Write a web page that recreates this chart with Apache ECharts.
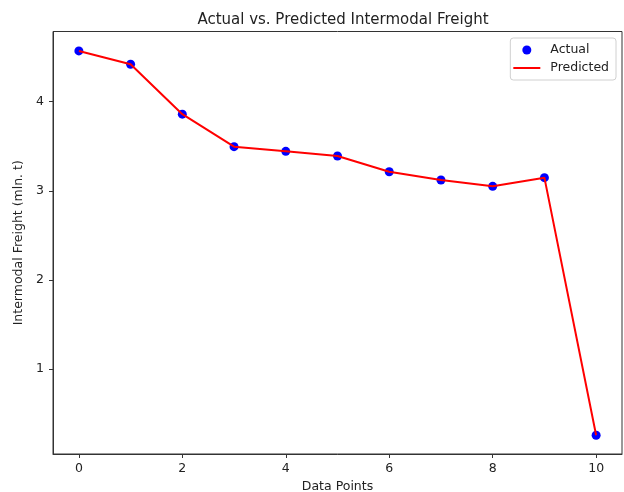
<!DOCTYPE html>
<html>
<head>
<meta charset="utf-8">
<script src="https://cdn.jsdelivr.net/npm/echarts@6/dist/echarts.min.js"></script>
<style>html,body{margin:0;padding:0;background:#fff}#c{width:624px;height:492px}</style>
</head>
<body>
<div id="c"></div>
<script>
var dataPoints = [0, 1, 2, 3, 4, 5, 6, 7, 8, 9, 10];
var actual = [4.57, 4.42, 3.86, 3.495, 3.443, 3.39, 3.214, 3.121, 3.05, 3.147, 0.256];
var predicted = [4.57, 4.42, 3.86, 3.495, 3.443, 3.39, 3.214, 3.121, 3.05, 3.147, 0.256];
var xTicks = [0, 2, 4, 6, 8, 10];
var yTicks = [1, 2, 3, 4];

var font = 'DejaVu Sans';
var chart = echarts.init(document.getElementById('c'));
chart.setOption({
  animation: false,
  backgroundColor: '#fff',
  title: {
    text: 'Actual vs. Predicted Intermodal Freight',
    left: 338, top: 8, textAlign: 'center',
    textStyle: {fontFamily: font, fontSize: 15, fontWeight: 'normal', color: '#222'}
  },
  legend: {
    orient: 'vertical', right: 8, top: 38,
    padding: [5, 7, 5, 3],
    itemWidth: 27, itemHeight: 9, itemGap: 4,
    borderColor: '#d0d0d0', borderWidth: 1, borderRadius: 3,
    backgroundColor: '#fff',
    textStyle: {fontFamily: font, fontSize: 12.5, color: '#222', lineHeight: 14, padding: [0, 0, 0, 5]},
    data: [
      {name: 'Actual', icon: 'circle'},
      {name: 'Predicted', icon: 'path://M0,0 L27,0 L27,2 L0,2 Z'}
    ]
  },
  grid: {
    left: 53, right: 2, top: 31.5, bottom: 38,
    outerBoundsMode: 'none', containLabel: false,
    show: true, borderColor: '#333', borderWidth: 1
  },
  xAxis: {
    type: 'value', min: -0.5, max: 10.5,
    name: 'Data Points', nameLocation: 'middle', nameGap: 26,
    nameTextStyle: {fontFamily: font, fontSize: 12.5, color: '#222'},
    axisLine: {show: true, onZero: false, lineStyle: {color: '#333', width: 1}},
    axisTick: {show: true, length: 4, lineStyle: {color: '#333'}, customValues: xTicks},
    axisLabel: {fontFamily: font, fontSize: 12.5, color: '#222', margin: 8, customValues: xTicks},
    splitLine: {show: false}
  },
  yAxis: {
    type: 'value', min: 0.045, max: 4.788,
    name: 'Intermodal Freight (mln. t)', nameLocation: 'middle', nameGap: 24,
    nameTextStyle: {fontFamily: font, fontSize: 12.5, color: '#222'},
    axisLine: {show: true, onZero: false, lineStyle: {color: '#333', width: 1}},
    axisTick: {show: true, length: 4, lineStyle: {color: '#333'}, customValues: yTicks},
    axisLabel: {fontFamily: font, fontSize: 12.5, color: '#222', margin: 9, customValues: yTicks},
    splitLine: {show: false}
  },
  series: [
    {
      name: 'Actual', type: 'scatter', symbol: 'circle', symbolSize: 9,
      itemStyle: {color: '#0000ff', opacity: 1},
      data: dataPoints.map(function (x, i) { return [x, actual[i]]; }),
      z: 2
    },
    {
      name: 'Predicted', type: 'line', symbol: 'none', showSymbol: false,
      lineStyle: {color: '#ff0000', width: 2},
      itemStyle: {color: '#ff0000'},
      data: dataPoints.map(function (x, i) { return [x, predicted[i]]; }),
      z: 3
    }
  ]
});
</script>
</body>
</html>
